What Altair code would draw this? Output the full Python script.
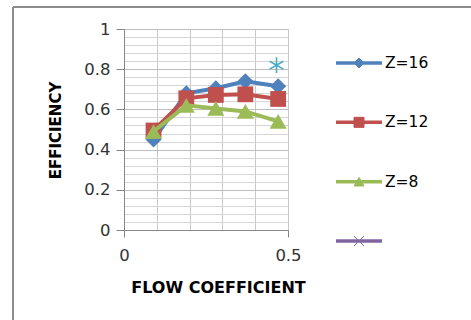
import altair as alt
import pandas as pd

# ---- data ----
flow = [0.09, 0.19, 0.28, 0.37, 0.47]
eff_z16 = [0.45, 0.68, 0.705, 0.74, 0.715]
eff_z12 = [0.495, 0.655, 0.672, 0.675, 0.652]
eff_z8 = [0.49, 0.62, 0.605, 0.59, 0.54]
extra_flow = [0.465]
extra_eff = [0.82]

series_names = ["Z=16", "Z=12", "Z=8", ""]
series_colors = ["#4F81BD", "#C0504D", "#9BBB59", "#8064A2"]
extra_color = "#4BACC6"

y_ticks = [round(i * 0.04, 2) for i in range(26)]
x_ticks = [0, 0.1, 0.2, 0.3, 0.4, 0.5]

X_PATH = "M-1,-1L1,1M-1,1L1,-1"
ASTER_PATH = "M0,-1L0,1M-0.87,-0.5L0.87,0.5M-0.87,0.5L0.87,-0.5"
plot_shapes = ["diamond", "square", "triangle-up", X_PATH]

W, H = 164, 201

major_y = "abs(datum.value*5 - round(datum.value*5)) < 0.001"
major_x = "abs(datum.value*2 - round(datum.value*2)) < 0.001"

xs = alt.Scale(domain=[0, 0.5], nice=False, zero=False)
ys = alt.Scale(domain=[0, 1], nice=False)

x_axis = alt.Axis(
    values=x_ticks, format=".1~f", title="FLOW COEFFICIENT",
    labelExpr=f"({major_x}) ? datum.label : ''",
    grid=True, gridColor="#c8c8c8", gridWidth=1,
    tickSize=7, tickColor="#868686",
    tickOpacity={"condition": {"test": major_x, "value": 1}, "value": 0},
    domainColor="#868686", domainWidth=1,
    labelFontSize=16.5, labelColor="#333333", labelPadding=10, labelFlush=False,
    titleFontSize=16, titleFontWeight="bold", titleColor="#000000",
    titleX=94, titleY=57, titleBaseline="middle", titleAlign="center",
)
y_axis = alt.Axis(
    values=y_ticks, format=".1~f", title="EFFICIENCY",
    labelExpr=f"({major_y}) ? datum.label : ''",
    grid=True, gridWidth=1,
    gridColor={"condition": {"test": major_y, "value": "#bdbdbd"}, "value": "#d6d6d6"},
    tickSize=8, tickColor="#868686",
    tickOpacity={"condition": {"test": major_y, "value": 1}, "value": 0},
    domainColor="#868686", domainWidth=1,
    labelFontSize=16.5, labelColor="#333333", labelPadding=6,
    titleFontSize=15, titleFontWeight="bold", titleColor="#000000",
    titleX=-69, titleY=101, titleBaseline="middle", titleAlign="center", titleAngle=-90,
)


def series_layer(values, color, shape, size):
    df = pd.DataFrame({"flow": flow, "eff": values})
    base = alt.Chart(df).encode(
        x=alt.X("flow:Q", scale=xs, axis=x_axis),
        y=alt.Y("eff:Q", scale=ys, axis=y_axis),
    )
    line = base.mark_line(color=color, strokeWidth=4)
    pts = base.mark_point(shape=shape, size=size, filled=True, color=color, opacity=1)
    return line + pts


l16 = series_layer(eff_z16, series_colors[0], "diamond", 260)
l12 = series_layer(eff_z12, series_colors[1], "square", 250)
l8 = series_layer(eff_z8, series_colors[2], "triangle-up", 290)

extra_df = pd.DataFrame({"flow": extra_flow, "eff": extra_eff})
extra = alt.Chart(extra_df).mark_point(
    shape=ASTER_PATH, size=250, filled=False, color=extra_color, strokeWidth=1.6, opacity=1
).encode(
    x=alt.X("flow:Q", scale=xs, axis=x_axis),
    y=alt.Y("eff:Q", scale=ys, axis=y_axis),
)

# ---- legend (data driven rows) ----
leg_df = pd.DataFrame({
    "key": [0, 1, 2, 3],
    "label": series_names,
    "color": series_colors,
    "shape": plot_shapes,
})
leg_y = alt.Y("key:O", scale=alt.Scale(type="point", domain=[0, 1, 2, 3], range=[34, 212], padding=0), axis=None)
leg_base = alt.Chart(leg_df).encode(y=leg_y)
leg_line = leg_base.mark_rule(strokeWidth=3.5).encode(
    x=alt.value(212), x2=alt.value(258), color=alt.Color("color:N", scale=None, legend=None)
)
leg_pts = leg_base.mark_point(size=100, strokeWidth=1, opacity=1).encode(
    x=alt.value(235),
    shape=alt.Shape("shape:N", scale=None, legend=None),
    fill=alt.Fill("color:N", scale=None, legend=None),
    stroke=alt.Stroke("color:N", scale=None, legend=None),
)
leg_txt = leg_base.mark_text(align="left", baseline="middle", fontSize=15.5, color="#000000").encode(
    x=alt.value(261), text="label:N"
)

# ---- outer frame (top and left edges) ----
frame_top = alt.Chart(leg_df).mark_rule(color="#8c8c8c", strokeWidth=2).encode(
    x=alt.value(-111), x2=alt.value(347), y=alt.value(-22)
)
frame_left = alt.Chart(leg_df).mark_rule(color="#8c8c8c", strokeWidth=2).encode(
    x=alt.value(-111), y=alt.value(-22), y2=alt.value(300)
)

main = alt.layer(l16, l12, l8, extra)
legend = alt.layer(leg_line, leg_pts, leg_txt)

chart = alt.layer(main, legend, frame_top, frame_left).resolve_scale(
    y="independent"
).properties(
    width=W, height=H,
    autosize=alt.AutoSizeParams(type="none"),
    padding={"left": 124, "top": 29, "right": 471 - 124 - W, "bottom": 320 - 29 - H},
    background="white",
).configure(font="DejaVu Sans").configure_view(stroke=None)

chart.save("out.html", embed_options={"renderer": "svg", "actions": False})
